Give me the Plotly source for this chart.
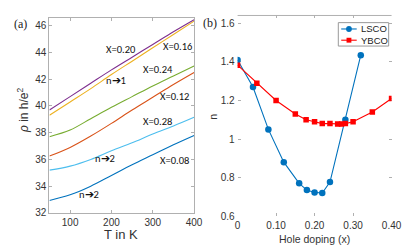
import plotly.graph_objects as go

# ---- Panel (a): resistivity curves ----
T = [50, 100, 150, 200, 250, 300, 350, 400]
rho_008 = [32.93, 33.35, 34.0, 34.8, 35.6, 36.35, 37.1, 37.8]
rho_012 = [36.25, 36.9, 37.75, 38.7, 39.7, 40.65, 41.6, 42.5]
rho_016 = [39.3, 40.3, 41.3, 42.35, 43.35, 44.35, 45.35, 46.35]
rho_020 = [39.7, 40.7, 41.7, 42.7, 43.65, 44.6, 45.55, 46.45]
rho_024 = [37.7, 38.2, 39.05, 39.9, 40.7, 41.5, 42.25, 43.0]
rho_028 = [35.2, 35.5, 36.0, 36.65, 37.25, 37.9, 38.5, 39.15]

# ---- Panel (b): exponent n vs hole doping ----
lsco_x = [0.0, 0.04, 0.08, 0.12, 0.16, 0.18, 0.20, 0.22, 0.24, 0.28, 0.32]
lsco_n = [1.41, 1.27, 1.05, 0.88, 0.77, 0.735, 0.723, 0.72, 0.777, 1.10, 1.435]
ybco_x = [0.0, 0.05, 0.10, 0.15, 0.178, 0.20, 0.22, 0.24, 0.26, 0.27, 0.28, 0.30, 0.35, 0.40]
ybco_n = [1.383, 1.29, 1.20, 1.13, 1.10, 1.09, 1.08, 1.08, 1.078, 1.078, 1.08, 1.09, 1.14, 1.21]

W, H = 411, 247
BLUE, RED = "#0072BD", "#FF0000"

fig = go.Figure()

curves = [
    (rho_008, "#0072BD"),
    (rho_012, "#D95319"),
    (rho_024, "#77AC30"),
    (rho_028, "#4DBEEE"),
    (rho_016, "#EDB120"),
    (rho_020, "#7E2F8E"),
]
for ys, c in curves:
    fig.add_trace(go.Scatter(x=T, y=ys, mode="lines", line=dict(color=c, width=1.1, shape="spline"),
                             showlegend=False, xaxis="x", yaxis="y"))

fig.add_trace(go.Scatter(x=lsco_x, y=lsco_n, mode="lines+markers", name="LSCO",
                         line=dict(color=BLUE, width=1.1),
                         marker=dict(symbol="circle", size=6.5, color=BLUE),
                         showlegend=False, xaxis="x2", yaxis="y2"))
fig.add_trace(go.Scatter(x=ybco_x, y=ybco_n, mode="lines+markers", name="YBCO",
                         line=dict(color=RED, width=1.1),
                         marker=dict(symbol="square", size=5.5, color=RED),
                         showlegend=False, xaxis="x2", yaxis="y2"))

tickfont = dict(family="Liberation Sans, Arial", size=10, color="#333333")
axcol = "#b0b0b0"

fig.update_layout(
    width=W, height=H,
    margin=dict(l=0, r=0, t=0, b=0),
    paper_bgcolor="white", plot_bgcolor="white",
    showlegend=False,
    xaxis=dict(domain=[0.0966, 0.46], range=[50, 400], tickvals=[100, 200, 300, 400],
               ticks="inside", ticklen=3, tickcolor=axcol, showline=True, linecolor=axcol,
               mirror="ticks", showgrid=False, zeroline=False, tickfont=tickfont, anchor="y"),
    yaxis=dict(domain=[0.1498, 0.9595], range=[32, 46.6], tickvals=[32, 34, 36, 38, 40, 42, 44, 46],
               ticks="inside", ticklen=3, tickcolor=axcol, showline=True, linecolor=axcol,
               mirror="ticks", showgrid=False, zeroline=False, tickfont=tickfont, anchor="x"),
    xaxis2=dict(domain=[0.5693, 0.9562], range=[0, 0.40], tickvals=[0, 0.1, 0.2, 0.3, 0.4],
                ticktext=["0", "0.10", "0.20", "0.30", "0.40"],
                ticks="inside", ticklen=3, tickcolor=axcol, showline=True, linecolor="white",
                mirror="ticks", layer="below traces",
                showgrid=False, zeroline=False, tickfont=tickfont, anchor="y2"),
    yaxis2=dict(domain=[0.1364, 0.969], range=[0.6, 1.641], tickvals=[0.6, 0.8, 1.0, 1.2, 1.4, 1.6],
                ticktext=["0.6", "0.8", "1", "1.2", "1.4", "1.6"],
                ticks="inside", ticklen=3, tickcolor=axcol, showline=True, linecolor="white",
                mirror="ticks", layer="below traces",
                showgrid=False, zeroline=False, tickfont=tickfont, anchor="x2"),
)

# top border line of panel (b)
fig.add_shape(type="line", xref="x2 domain", yref="y2 domain", x0=0, x1=1, y0=1, y1=1,
              line=dict(color=axcol, width=1))

# in-plot curve labels (panel a)
lab = dict(family="Carlito, Noto Sans, Liberation Sans", size=10.5, color="#111111")
annots = [
    (222.6, 44.2, "X=0.20"),
    (359.4, 44.45, "X=0.16"),
    (211, 41.92, "n➔1"),
    (312.5, 42.7, "X=0.24"),
    (351.5, 40.7, "X=0.12"),
    (312.5, 38.85, "X=0.28"),
    (185, 36.06, "n➔2"),
    (351.5, 35.9, "X=0.08"),
    (146, 33.39, "n➔2"),
]
for x, y, t in annots:
    fig.add_annotation(x=x, y=y, xref="x", yref="y", text=t, showarrow=False, font=lab,
                       xanchor="center", yanchor="middle")


def px_annot(x, y, text, font, angle=0, xanchor="center"):
    fig.add_annotation(x=x / W, y=1 - y / H, xref="paper", yref="paper", text=text,
                       showarrow=False, font=font, textangle=angle,
                       xanchor=xanchor, yanchor="middle")


sans = "Liberation Sans, Arial"
px_annot(114, 232, "T in K", dict(family=sans, size=13, color="#333"))
px_annot(313, 237, "Hole doping (x)", dict(family=sans, size=10.5, color="#333"))
px_annot(13, 105, "<i>ρ</i> in h/e<sup>2</sup>", dict(family=sans, size=12, color="#333"), angle=-90)
px_annot(209, 111, "n", dict(family=sans, size=10.5, color="#333"), angle=-90)
px_annot(10, 16, "(a)", dict(family="Liberation Serif, Times New Roman", size=12, color="#222"))
px_annot(206, 15, "(b)", dict(family="Liberation Serif, Times New Roman", size=12, color="#222"))

# manual legend box (panel b)
def pxr(x0, y0, x1, y1):
    return dict(x0=x0 / W, x1=x1 / W, y0=1 - y0 / H, y1=1 - y1 / H, xref="paper", yref="paper")

fig.add_shape(type="rect", line=dict(color="#999999", width=1), fillcolor="white", **pxr(338, 15, 390, 39))
fig.add_shape(type="line", line=dict(color=BLUE, width=1.1), **pxr(341, 21.5, 357, 21.5))
fig.add_shape(type="circle", line=dict(color=BLUE, width=0), fillcolor=BLUE, **pxr(346, 18.5, 352, 24.5))
fig.add_shape(type="line", line=dict(color=RED, width=1.1), **pxr(341, 33, 357, 33))
fig.add_shape(type="rect", line=dict(color=RED, width=0), fillcolor=RED, **pxr(346.5, 30.5, 351.5, 35.5))
legfont = dict(family=sans, size=9.5, color="#222")
px_annot(359, 21.5, "LSCO", legfont, xanchor="left")
px_annot(359, 33, "YBCO", legfont, xanchor="left")

fig.write_html("out.html")
